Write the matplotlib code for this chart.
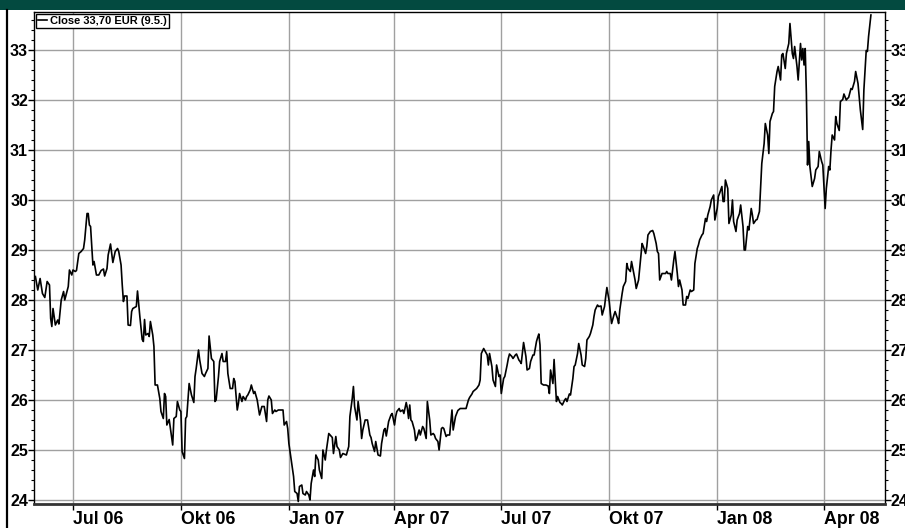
import numpy as np
import pandas as pd
import matplotlib
matplotlib.use('Agg')
import matplotlib.pyplot as plt
from matplotlib.ticker import MultipleLocator
from matplotlib.patches import Rectangle
from matplotlib.lines import Line2D

# close prices, time given as days after 1 Jul 2006
days = [-32, -30, -28, -26, -24, -22, -20, -19, -18, -17, -15, -13, -12, -10, -8, -7, -4, -3, -1, 0,
        2, 3, 5, 7, 9, 10, 12, 13, 14, 15, 17, 18, 20, 22, 24, 26, 27, 29, 30, 32,
        33, 34, 36, 38, 39, 41, 42, 43, 44, 46, 47, 49, 50, 51, 54, 55, 57, 59, 60, 61,
        62, 64, 65, 66, 68, 69, 70, 72, 74, 75, 77, 78, 79, 80, 82, 85, 86, 88, 89, 91,
        92, 93, 95, 96, 97, 99, 101, 103, 104, 105, 107, 108, 110, 112, 113, 115, 116, 118, 120, 121,
        122, 124, 125, 127, 128, 130, 131, 132, 134, 136, 137, 138, 140, 141, 142, 144, 145, 147, 148, 149,
        151, 152, 154, 155, 157, 159, 161, 163, 165, 166, 167, 169, 170, 172, 173, 175, 179, 180, 182, 183,
        184, 186, 188, 189, 191, 192, 193, 195, 196, 198, 199, 201, 202, 203, 205, 206, 207, 209, 210, 212,
        213, 215, 216, 218, 221, 222, 224, 225, 227, 228, 230, 233, 235, 236, 238, 239, 240, 242, 243, 245,
        246, 247, 249, 251, 253, 254, 255, 257, 258, 260, 262, 263, 265, 266, 267, 269, 271, 272, 274, 275,
        276, 278, 279, 281, 282, 284, 285, 286, 287, 288, 289, 291, 292, 293, 295, 296, 298, 299, 301, 302,
        304, 305, 307, 308, 309, 311, 312, 314, 315, 316, 318, 319, 321, 323, 324, 326, 327, 328, 330, 333,
        335, 337, 338, 340, 341, 344, 346, 347, 348, 350, 353, 354, 355, 357, 358, 360, 361, 363, 364, 365,
        367, 368, 370, 371, 372, 374, 375, 377, 378, 380, 381, 382, 384, 386, 387, 389, 390, 392, 393, 395,
        396, 397, 398, 399, 401, 403, 405, 406, 407, 409, 410, 412, 413, 415, 416, 417, 419, 420, 421, 423,
        424, 426, 427, 428, 430, 431, 433, 434, 436, 437, 438, 440, 441, 443, 444, 445, 447, 448, 450, 451,
        453, 454, 455, 457, 458, 459, 461, 462, 464, 465, 466, 468, 469, 471, 472, 473, 475, 476, 478, 479,
        480, 482, 485, 486, 488, 489, 490, 492, 494, 495, 497, 498, 499, 500, 502, 505, 506, 507, 509, 510,
        512, 513, 515, 516, 517, 519, 520, 522, 523, 524, 526, 527, 529, 530, 532, 533, 534, 536, 537, 539,
        540, 541, 543, 544, 546, 547, 549, 550, 551, 553, 554, 555, 556, 558, 559, 561, 562, 563, 565, 566,
        568, 569, 571, 572, 573, 575, 576, 578, 579, 580, 582, 583, 585, 586, 587, 589, 590, 592, 593, 594,
        596, 597, 598, 600, 601, 603, 604, 605, 607, 608, 610, 611, 613, 614, 615, 617, 618, 620, 621, 622,
        623, 624, 625, 626, 627, 628, 630, 632, 633, 635, 636, 638, 639, 641, 642, 644, 645, 646, 647, 649,
        650, 651, 653, 654, 656, 657, 659, 660, 661, 663, 664, 666, 667, 669, 670, 671, 673, 674, 676, 677,
        678, 680]
close = [28.47, 28.2, 28.43, 28.13, 28.05, 28.37, 28.3, 27.63, 27.47, 27.83, 27.5, 27.6, 27.52, 28.0, 28.17, 28.0, 28.27, 28.6, 28.5, 28.6,
         28.57, 28.59, 28.93, 28.97, 29.03, 29.2, 29.73, 29.73, 29.5, 29.47, 28.7, 28.77, 28.5, 28.5, 28.59, 28.62, 28.48, 28.63, 28.9, 29.12,
         28.93, 28.75, 28.97, 29.03, 28.97, 28.7, 28.3, 27.97, 28.08, 28.08, 27.5, 27.49, 27.77, 27.83, 27.87, 28.18, 27.67, 27.21, 27.17, 27.61,
         27.3, 27.33, 27.27, 27.57, 27.3, 27.07, 26.3, 26.3, 26.03, 25.77, 25.63, 26.13, 26.07, 25.5, 25.61, 25.1, 25.63, 25.67, 25.97, 25.8,
         25.77, 24.97, 24.83, 25.63, 25.67, 26.33, 26.1, 25.95, 26.47, 26.63, 27.0, 26.8, 26.53, 26.47, 26.53, 26.63, 27.28, 26.83, 26.77, 25.97,
         26.0, 26.47, 26.77, 26.93, 26.77, 26.77, 26.97, 26.53, 26.23, 26.23, 26.43, 26.37, 25.8, 25.93, 26.13, 25.97, 26.07, 26.0, 26.07, 26.1,
         26.2, 26.3, 26.13, 26.17, 26.0, 25.7, 25.87, 25.87, 25.57, 26.0, 26.08, 26.0, 25.73, 25.8, 25.77, 25.8, 25.8, 25.5, 25.57, 25.43,
         25.13, 24.8, 24.47, 24.17, 24.13, 23.97, 24.27, 24.3, 24.13, 24.1, 24.17, 24.1, 24.0, 24.33, 24.6, 24.47, 24.9, 24.8, 24.6, 24.43,
         25.0, 24.8, 25.0, 25.33, 25.25, 24.93, 25.27, 25.07, 25.0, 24.85, 24.93, 24.9, 25.07, 25.67, 26.03, 26.27, 25.87, 25.6, 25.97, 25.6,
         25.23, 25.4, 25.6, 25.6, 25.3, 25.25, 25.13, 24.97, 25.17, 24.9, 24.88, 25.13, 25.4, 25.43, 25.28, 25.57, 25.7, 25.73, 25.5, 25.67,
         25.77, 25.83, 25.77, 25.8, 25.73, 25.95, 25.83, 25.63, 25.9, 25.6, 25.57, 25.4, 25.19, 25.23, 25.4, 25.3, 25.47, 25.43, 25.23, 25.97,
         25.6, 25.3, 25.33, 25.3, 25.23, 25.17, 25.0, 25.43, 25.45, 25.43, 25.27, 25.3, 25.3, 25.8, 25.4, 25.67, 25.73, 25.79, 25.83, 25.83,
         25.83, 26.0, 26.05, 26.12, 26.17, 26.23, 26.3, 26.4, 26.93, 27.03, 26.9, 26.7, 26.93, 26.67, 26.4, 26.27, 26.7, 26.47, 26.5, 26.13,
         26.43, 26.47, 26.7, 26.83, 26.92, 26.87, 26.83, 26.9, 26.92, 26.8, 26.77, 26.73, 27.15, 26.87, 26.6, 26.63, 26.77, 26.9, 26.9, 27.17,
         27.25, 27.32, 27.1, 26.33, 26.3, 26.3, 26.28, 26.13, 26.6, 26.33, 26.81, 25.97, 26.07, 25.95, 25.93, 25.9, 26.0, 26.03, 25.97, 26.12,
         26.1, 26.43, 26.67, 26.7, 26.93, 27.13, 26.9, 26.7, 26.67, 26.83, 27.2, 27.27, 27.33, 27.5, 27.67, 27.8, 27.9, 27.87, 27.88, 27.7,
         27.87, 28.07, 28.25, 27.97, 27.73, 27.53, 27.7, 27.77, 27.63, 27.53, 27.8, 28.13, 28.27, 28.37, 28.73, 28.63, 28.57, 28.77, 28.53, 28.4,
         28.23, 28.4, 29.13, 29.07, 28.93, 29.07, 29.3, 29.37, 29.39, 29.33, 29.13, 28.97, 28.93, 28.4, 28.53, 28.53, 28.57, 28.53, 28.53, 28.4,
         28.8, 28.97, 28.53, 28.27, 28.4, 28.2, 27.9, 27.9, 28.07, 28.03, 28.2, 28.17, 28.2, 28.73, 29.03, 29.1, 29.2, 29.3, 29.33, 29.63,
         29.57, 29.7, 29.87, 30.0, 30.1, 29.6, 29.83, 30.07, 30.13, 30.27, 29.97, 29.97, 30.4, 30.23, 29.53, 29.7, 30.0, 29.57, 29.37, 29.6,
         29.73, 29.9, 29.47, 29.0, 29.0, 29.47, 29.4, 29.83, 29.7, 29.53, 29.6, 29.61, 29.77, 30.27, 30.73, 31.13, 31.53, 31.3, 30.93, 31.57,
         31.73, 31.77, 32.27, 32.57, 32.67, 32.4, 32.9, 32.93, 32.63, 32.93, 33.13, 33.53, 32.93, 32.83, 33.07, 32.67, 32.4, 33.13, 32.8, 33.03,
         32.7, 33.03, 32.13, 30.7, 31.17, 30.67, 30.27, 30.43, 30.6, 30.67, 30.97, 30.77, 30.7, 29.83, 30.23, 30.67, 30.6, 31.0, 31.3, 31.2,
         31.67, 31.53, 31.39, 31.97, 32.01, 32.12, 32.0, 32.03, 32.05, 32.23, 32.21, 32.37, 32.57, 32.33, 32.07, 31.8, 31.41, 32.2, 32.99, 32.97,
         33.27, 33.7]

tick_dates = ['2006-07-01', '2006-10-01', '2007-01-01', '2007-04-01',
              '2007-07-01', '2007-10-01', '2008-01-01', '2008-04-01']
tick_labels = ['Jul 06', 'Okt 06', 'Jan 07', 'Apr 07', 'Jul 07', 'Okt 07', 'Jan 08', 'Apr 08']
legend_label = 'Close 33,70 EUR (9.5.)'

base = pd.Timestamp('2006-07-01')
dates = base + pd.to_timedelta(days, unit='D')

plt.rcParams['font.family'] = ['Liberation Sans', 'DejaVu Sans']

W, H = 905, 528
fig = plt.figure(figsize=(W / 100, H / 100), dpi=100)
fig.patch.set_facecolor('white')

# green header band and black rule on the left
fig.patches.append(Rectangle((0, 1 - 10 / H), 1, 10 / H, transform=fig.transFigure,
                             facecolor='#034a40', edgecolor='none', zorder=0))
fig.lines.append(Line2D([6.5 / W, 6.5 / W], [0, 1 - 10 / H], transform=fig.transFigure,
                        color='black', lw=1.6))

ax = fig.add_axes([34 / W, 24 / H, 851 / W, 492 / H])
ax.plot(dates, close, color='black', lw=1.2, label=legend_label, zorder=3)

ax.set_ylim(23.92, 33.76)
ax.set_xlim(base + pd.Timedelta(days=-33.2), base + pd.Timedelta(days=692))

ax.set_yticks(np.arange(24, 34))
ax.yaxis.set_minor_locator(MultipleLocator(0.2))
ax.set_xticks(pd.to_datetime(tick_dates))
ax.set_xticklabels(tick_labels, ha='left')

ax.grid(True, which='major', color='#a0a0a0', lw=1.0, zorder=1)
ax.tick_params(axis='y', which='major', direction='out', length=4, width=1,
               left=True, right=True, labelleft=True, labelright=True,
               labelsize=11.5, pad=0.3)
ax.tick_params(axis='y', which='minor', direction='out', length=2, width=0.8,
               left=True, right=True)
ax.tick_params(axis='x', which='major', direction='out', length=4, width=1,
               labelsize=12.8, pad=1)
for lab in ax.get_xticklabels() + ax.get_yticklabels():
    lab.set_fontweight('bold')
for lab in ax.yaxis.get_ticklabels(which='major'):
    lab.set_fontweight('bold')
for lab in ax.yaxis.get_majorticklabels():
    lab.set_fontweight('bold')

for s in ['left', 'right', 'top']:
    ax.spines[s].set_color('black')
    ax.spines[s].set_linewidth(1)
ax.spines['bottom'].set_color('#333333')
ax.spines['bottom'].set_linewidth(2)

leg = ax.legend(loc='upper left', bbox_to_anchor=(0, 1), borderaxespad=0.15,
                fancybox=False, edgecolor='black', framealpha=1,
                handlelength=0.8, handletextpad=0.3, borderpad=0.2,
                prop={'weight': 'bold', 'size': 8.0})
leg.get_frame().set_linewidth(1)

fig.savefig('out.png', dpi=100)
